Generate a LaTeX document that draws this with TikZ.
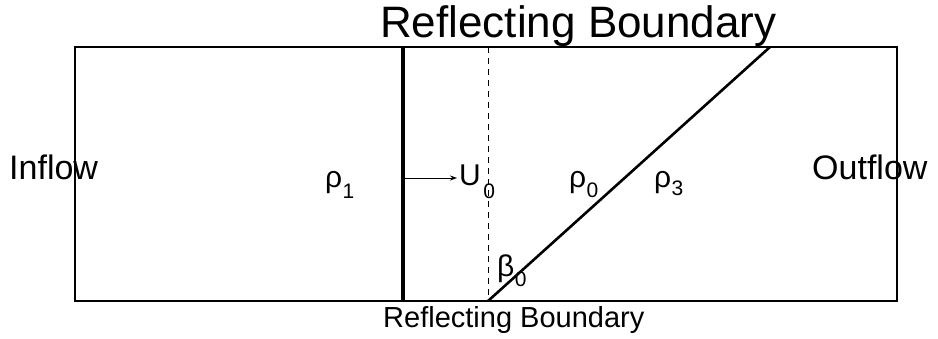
\documentclass[tikz,border=0pt]{standalone}
\usepackage{fontspec}
\setmainfont{Liberation Sans}
\usetikzlibrary{arrows.meta}
\begin{document}
\begin{tikzpicture}[x=1pt,y=-1pt,
  lbl/.style={inner sep=0pt,anchor=base west},
  big/.style={font=\fontsize{44}{44}\selectfont},
  mid/.style={font=\fontsize{34}{34}\selectfont},
  bnd/.style={font=\fontsize{29}{29}\selectfont},
  sym/.style={font=\fontsize{30}{30}\selectfont},
  subs/.style={font=\fontsize{21}{21}\selectfont}]
\useasboundingbox (0,0) rectangle (938,338);
\fill[white] (0,0) rectangle (938,338);
% domain
\coordinate (tl) at (75,47);
\coordinate (br) at (897,301);
\draw[line width=1.2pt] (tl) rectangle (br);
% shock (thick vertical)
\coordinate (st) at (403,47);
\coordinate (sb) at (403,301);
\draw[line width=3.8pt] (st) -- (sb);
% dashed vertical
\coordinate (dt) at (488,47);
\coordinate (db) at (488,301);
\draw[dashed,line width=0.9pt,dash pattern=on 6pt off 5pt] (dt) -- (db);
% diagonal
\coordinate (gt) at (770,47);
\draw[line width=2.6pt] (db) -- (gt);
% arrow
\coordinate (a0) at (403,178);
\coordinate (a1) at (457,178);
\draw[line width=0.9pt,-{Stealth[length=7pt,width=5pt]}] (a0) -- (a1);
% texts
\node[lbl,big] (top) at (380,37) {Reflecting Boundary};
\node[lbl,bnd] (bot) at (383,327) {Reflecting Boundary};
\node[lbl,mid] (in) at (9,179) {Inflow};
\node[lbl,mid] (out) at (812,179) {Outflow};
\node[lbl,sym] (r1) at (325,187) {ρ};
\node[lbl,subs] (r1s) at (r1.base east) [yshift=-11pt] {1};
\node[lbl,sym] (u0) at (459,185) {U};
\node[lbl,subs] (u0s) at (u0.base east) [xshift=2pt,yshift=-13pt] {0};
\node[lbl,sym] (r0) at (569,187) {ρ};
\node[lbl,subs] (r0s) at (r0.base east) [yshift=-10pt] {0};
\node[lbl,sym] (r3) at (654,187) {ρ};
\node[lbl,subs] (r3s) at (r3.base east) [yshift=-8pt] {3};
\node[lbl,sym] (b0) at (497,276) {β};
\node[lbl,subs] (b0s) at (b0.base east) [yshift=-10pt] {0};
\end{tikzpicture}
\end{document}
